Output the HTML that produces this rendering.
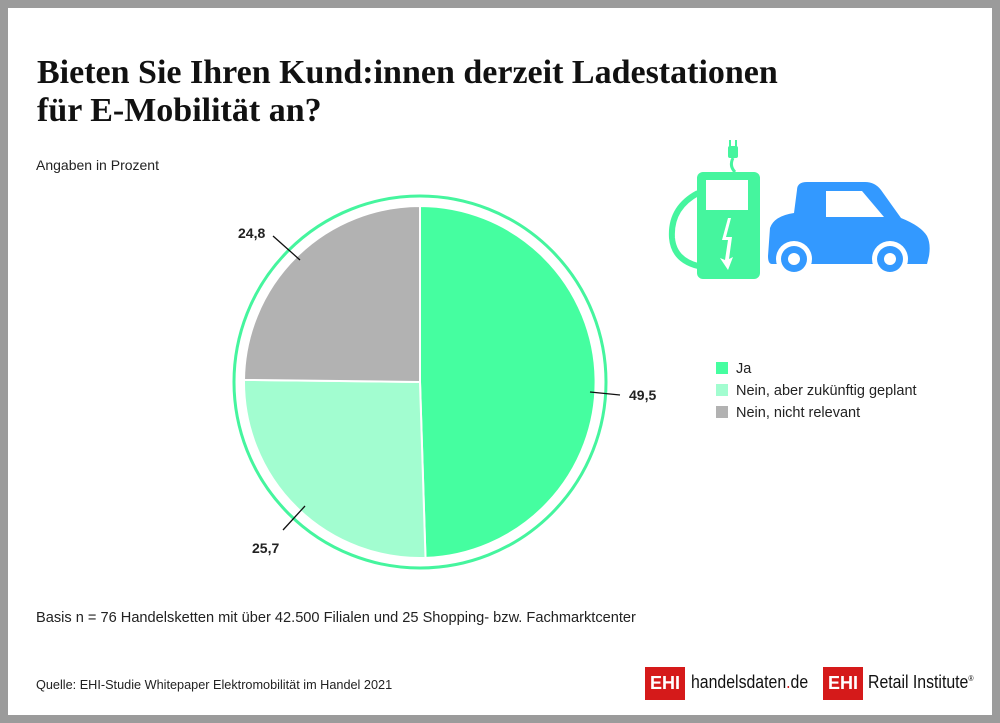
<!DOCTYPE html>
<html><head><meta charset="utf-8"><style>
body{margin:0;background:#fff}
.f{position:relative;width:1000px;height:723px;box-sizing:border-box;border:8px solid #9b9b9b;background:#fff;font-family:"Liberation Sans",sans-serif;overflow:hidden}
.t{position:absolute;left:29px;top:46px;font-family:"Liberation Serif",serif;font-weight:bold;font-size:34px;line-height:38px;color:#111;white-space:nowrap}
.s{position:absolute;font-size:14px;color:#222;white-space:nowrap}
.lg{position:absolute;font-size:18px;color:#111;white-space:nowrap;transform-origin:0 0;transform:scaleX(0.88)}
</style></head><body><div class="f">
<div class="t">Bieten Sie Ihren Kund:innen derzeit Ladestationen<br>für E-Mobilität an?</div>
<div class="s" style="left:28px;top:149px;font-size:14px">Angaben in Prozent</div>
<svg width="1000" height="723" style="position:absolute;left:-8px;top:-8px">
<circle cx="420" cy="382" r="186" fill="none" stroke="#45f59e" stroke-width="3"/>
<path d="M420,382 L420,206 A176,176 0 0 1 425.5,557.9 Z" fill="#45fea0" stroke="#fff" stroke-width="2"/>
<path d="M420,382 L425.5,557.9 A176,176 0 0 1 244,379.9 Z" fill="#a2fdd0" stroke="#fff" stroke-width="2"/>
<path d="M420,382 L244,379.9 A176,176 0 0 1 420,206 Z" fill="#b2b2b2" stroke="#fff" stroke-width="2"/>
<g stroke="#111" stroke-width="1.3">
<line x1="590" y1="392" x2="620" y2="395"/>
<line x1="273" y1="236" x2="300" y2="260"/>
<line x1="305" y1="506" x2="283" y2="530"/>
</g>
<g font-family="Liberation Sans" font-size="14" font-weight="bold" fill="#222">
<text x="629" y="400">49,5</text>
<text x="238" y="238">24,8</text>
<text x="252" y="553">25,7</text>
</g>
<g font-family="Liberation Sans" font-size="14.5" fill="#222">
<rect x="716" y="362" width="12" height="12" fill="#45fea0"/><text x="736" y="373">Ja</text>
<rect x="716" y="384" width="12" height="12" fill="#a2fdd0"/><text x="736" y="395">Nein, aber zukünftig geplant</text>
<rect x="716" y="406" width="12" height="12" fill="#b2b2b2"/><text x="736" y="417">Nein, nicht relevant</text>
</g>
<g fill="#45f59e">
<rect x="697" y="172" width="63" height="107" rx="6"/>
<rect x="707" y="270" width="42" height="9"/>
<rect x="728" y="146" width="10" height="12" rx="2"/>
<rect x="729" y="140" width="2" height="7"/><rect x="735" y="140" width="2" height="7"/>
<path d="M733,158 q-4,8 2,14" fill="none" stroke="#45f59e" stroke-width="3"/>
<path d="M698,193 q-28,15 -26,45 q2,22 26,28" fill="none" stroke="#45f59e" stroke-width="6"/>
</g>
<rect x="706" y="180" width="42" height="30" fill="#fff"/>
<path d="M728,218 l-6,22 l6,0 l-3,20 l-5,-2 l8,12 l5,-13 l-4,2 l3,-22 l-6,0 l5,-19 z" fill="#fff"/>
<path d="M797,190 q0,-8 10,-8 l58,0 q10,0 16,8 l20,28 q20,8 26,18 q4,8 2,20 l-2,8 l-155,0 q-4,0 -4,-8 l2,-28 q4,-12 24,-15 z" fill="#3399ff"/>
<path d="M826,191 l36,0 l22,26 l-58,0 z" fill="#fff"/>
<circle cx="794" cy="259" r="18" fill="#fff"/><circle cx="794" cy="259" r="13" fill="#3399ff"/><circle cx="794" cy="259" r="6" fill="#fff"/>
<circle cx="890" cy="259" r="18" fill="#fff"/><circle cx="890" cy="259" r="13" fill="#3399ff"/><circle cx="890" cy="259" r="6" fill="#fff"/>
</svg>
<div class="s" style="left:28px;top:602px;font-size:14.6px">Basis n = 76 Handelsketten mit über 42.500 Filialen und 25 Shopping- bzw. Fachmarktcenter</div>
<div class="s" style="left:28px;top:670px;font-size:12.7px">Quelle: EHI-Studie Whitepaper Elektromobilität im Handel 2021</div>
<div style="position:absolute;left:637px;top:659px;width:40px;height:33px;background:#d51a1a;color:#fff;font-weight:bold;font-size:18px;line-height:33px;text-align:center">EHI</div>
<div class="lg" style="left:683px;top:664px">handelsdaten<span style="color:#d51a1a">.</span>de</div>
<div style="position:absolute;left:815px;top:659px;width:40px;height:33px;background:#d51a1a;color:#fff;font-weight:bold;font-size:18px;line-height:33px;text-align:center">EHI</div>
<div class="lg" style="left:860px;top:664px">Retail Institute<sup style="font-size:8px">®</sup></div>
</div></body></html>
